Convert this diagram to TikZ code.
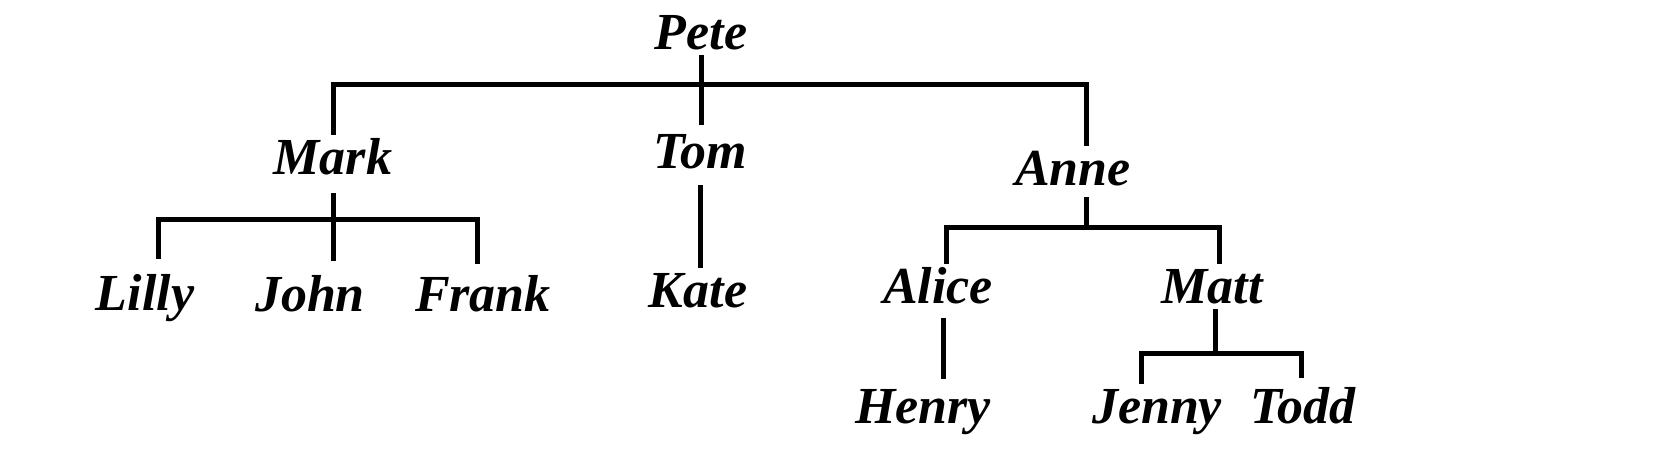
\documentclass[tikz,border=0pt]{standalone}
\usepackage{fontspec}
\setmainfont{Liberation Serif}
\begin{document}
\begin{tikzpicture}[x=0.5pt, y=-0.5pt,
  every node/.style={font=\fontsize{26}{30}\selectfont\bfseries\itshape,
    inner xsep=0pt, inner ysep=3pt, text height=16.5pt, text depth=0pt, anchor=base},
  link/.style={line width=2.5pt}]
  \useasboundingbox (0,0) rectangle (1674,462);

  \node (pete) at (701,49) {Pete};
  \node (mark) at (333,174) {Mark};
  \node (tom) at (700,168) {Tom};
  \node (anne) at (1073,185) {Anne};
  \node (lilly) at (145,310) {Lilly};
  \node (john) at (310,311) {John};
  \node (frank) at (483,311) {Frank};
  \node (kate) at (698,307) {Kate};
  \node (alice) at (938,303) {Alice};
  \node (matt) at (1212,303) {Matt};
  \node (henry) at (923,423) {Henry};
  \node (jenny) at (1157,423) {Jenny};
  \node (todd) at (1303,423) {Todd};

  \coordinate (kin1) at (701,84);
  \coordinate (kin2) at (333,219);
  \coordinate (kin3) at (1086,227);
  \coordinate (kin4) at (1215,353);

  % Pete
  \draw[link, shorten >=2pt] (pete.south) -- (pete.south |- tom.north);
  \draw[link] (mark.north) |- (kin1) -| ([xshift=6.5pt]anne.north);
  % Mark
  \draw[link, shorten <=6.5pt, shorten >=5.5pt] (mark.south) -- (mark.south |- john.north);
  \draw[link, shorten <=6pt, shorten >=4pt] ([xshift=6.5pt]lilly.north) |- (kin2) -| ([xshift=-3pt]frank.north);
  % Tom
  \draw[link, shorten <=5.5pt] (tom.south) -- (tom.south |- kate.north);
  % Anne
  \draw[link, shorten <=3pt] ([xshift=6.5pt]anne.south) -- (kin3);
  \draw[link] ([xshift=4pt]alice.north) |- (kin3) -| ([xshift=3.5pt]matt.north);
  % Alice and Matt
  \draw[link, shorten <=4.5pt, shorten >=2.5pt] ([xshift=2.5pt]alice.south) -- ([xshift=2.5pt]alice.south |- henry.north);
  \draw[link] ([xshift=1.5pt]matt.south) -- (kin4);
  \draw[link, shorten >=3pt] ([xshift=-8pt]jenny.north) |- (kin4) -| ([xshift=-1pt]todd.north);
\end{tikzpicture}
\end{document}
